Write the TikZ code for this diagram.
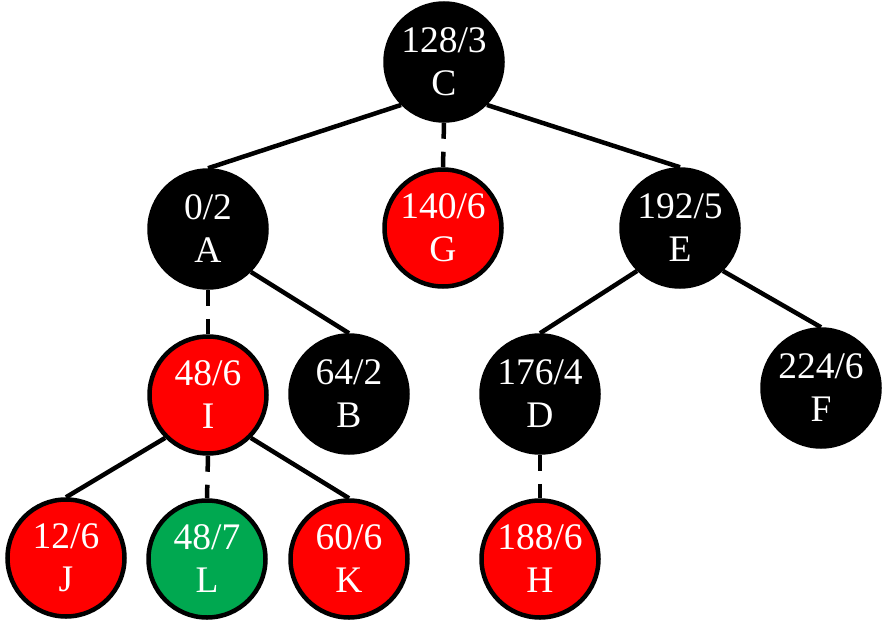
\documentclass[tikz,border=0pt]{standalone}
\usepackage{fontspec}
\setmainfont{Liberation Serif}
\definecolor{nodered}{RGB}{255,0,0}
\definecolor{nodegreen}{RGB}{0,168,80}
\begin{document}
\begin{tikzpicture}[x=1pt,y=-1pt,
  tnode/.style={circle,draw=black,line width=4.5pt,minimum size=117pt,inner sep=0pt,
    text=white,align=center,font=\fontsize{37.5pt}{43pt}\selectfont},
  blk/.style={tnode,fill=black},
  rd/.style={tnode,fill=nodered},
  gr/.style={tnode,fill=nodegreen},
  edge/.style={line width=4.5pt,draw=black},
  brk/.style={edge,dash pattern=on 16pt off 13pt on 200pt off 1pt}]
\useasboundingbox (0,0) rectangle (889,629);
\node[blk] (C) at (444,62) {128/3\\C};
\node[blk] (A) at (208,229) {0/2\\A};
\node[rd]  (G) at (443,228) {140/6\\G};
\node[blk] (E) at (680,228) {192/5\\E};
\node[rd]  (I) at (208,395) {48/6\\I};
\node[blk] (B) at (349,394) {64/2\\B};
\node[blk] (D) at (540,394) {176/4\\D};
\node[blk] (F) at (821,388) {224/6\\F};
\node[rd]  (J) at (66,558) {12/6\\J};
\node[gr]  (L) at (207,559) {48/7\\L};
\node[rd]  (K) at (349,559) {60/6\\K};
\node[rd]  (H) at (540,559) {188/6\\H};
\draw[edge] (C.south west) -- (A.north);
\draw[brk]  (C.south) -- (G.north);
\draw[edge] (C.south east) -- (E.north);
\draw[brk]  (A.south) -- (I.north);
\draw[edge] (A.south east) -- (B.north);
\draw[edge] (E.south west) -- (D.north);
\draw[edge] (E.south east) -- (F.north);
\draw[edge] (I.south west) -- (J.north);
\draw[brk]  (I.south) -- (L.north);
\draw[edge] (I.south east) -- (K.north);
\draw[brk]  (D.south) -- (H.north);
\end{tikzpicture}
\end{document}
